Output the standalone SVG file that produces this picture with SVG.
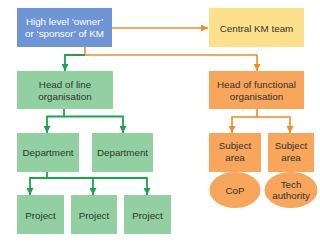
<svg xmlns="http://www.w3.org/2000/svg" width="320" height="249" viewBox="0 0 320 249">
<style>
text{font-family:"Liberation Sans",Arial,sans-serif;font-size:9.8px;fill:#333;text-anchor:middle}
.w{fill:#fff}
.blue{fill:#6f95d5}
.yel{fill:#fde08c}
.grn{fill:#92d0a2}
.org{fill:#f7a65c}
.lg{fill:none;stroke:#1ca34c;stroke-width:1.8}
.lo{fill:none;stroke:#f18c27;stroke-width:1.6}
</style>
<defs>
<marker id="ag" markerUnits="userSpaceOnUse" markerWidth="7" markerHeight="7" refX="7" refY="3.5" orient="auto"><path d="M0,0 L7,3.5 L0,7 z" fill="#1ca34c"/></marker>
<marker id="ao" markerUnits="userSpaceOnUse" markerWidth="7" markerHeight="7" refX="7" refY="3.5" orient="auto"><path d="M0,0 L7,3.5 L0,7 z" fill="#f18c27"/></marker>
</defs>
<rect width="320" height="249" fill="#fff"/>
<g id="connectors">
<path class="lo" d="M111,28 H208" marker-end="url(#ao)"/>
<path class="lo" d="M85,47 V55 H257 V71" marker-end="url(#ao)"/>
<path class="lg" d="M85,55 H65 V71" marker-end="url(#ag)"/>
<path class="lg" d="M64,109 V116.5 H47 V133" marker-end="url(#ag)"/>
<path class="lg" d="M64,116.5 H123 V133" marker-end="url(#ag)"/>
<path class="lg" d="M47,172 V178 H30 V195" marker-end="url(#ag)"/>
<path class="lg" d="M47,178 H147 V195" marker-end="url(#ag)"/>
<path class="lg" d="M93,178 V195" marker-end="url(#ag)"/>
<path class="lo" d="M257,109 V117 H232 V133" marker-end="url(#ao)"/>
<path class="lo" d="M257,117 H290 V133" marker-end="url(#ao)"/>
</g>
<g id="owner"><rect class="blue" x="17" y="8" width="95" height="39"/><text class="w" x="64.5" y="24.5">High level ‘owner’</text><text class="w" x="64.5" y="37">or ‘sponsor’ of KM</text></g>
<g id="central"><rect class="yel" x="209" y="8" width="95" height="39"/><text x="256.5" y="31.5">Central KM team</text></g>
<g id="headline"><rect class="grn" x="17" y="71" width="96" height="38"/><text x="65" y="87.5">Head of line</text><text x="65" y="100">organisation</text></g>
<g id="headfunc"><rect class="org" x="209" y="71" width="95" height="38"/><text x="256.5" y="87.5">Head of functional</text><text x="256.5" y="100">organisation</text></g>
<g id="dept1"><rect class="grn" x="17" y="133" width="62" height="39"/><text x="48" y="156">Department</text></g>
<g id="dept2"><rect class="grn" x="92" y="133" width="61" height="39"/><text x="122.5" y="156">Department</text></g>
<g id="proj1"><rect class="grn" x="17" y="195" width="47" height="39"/><text x="40.5" y="218.5">Project</text></g>
<g id="proj2"><rect class="grn" x="71" y="195" width="46" height="39"/><text x="94" y="218.5">Project</text></g>
<g id="proj3"><rect class="grn" x="124" y="195" width="47" height="39"/><text x="147.5" y="218.5">Project</text></g>
<g id="cop"><ellipse class="org" cx="235" cy="190" rx="25.5" ry="18"/><text x="235" y="193.5">CoP</text></g>
<g id="tech"><ellipse class="org" cx="291" cy="190" rx="26.5" ry="18"/><text x="291" y="188">Tech</text><text x="291" y="199">authority</text></g>
<g id="subj1"><rect class="org" x="209" y="133" width="52" height="39"/><text x="235" y="149">Subject</text><text x="235" y="161">area</text></g>
<g id="subj2"><rect class="org" x="268" y="133" width="46" height="39"/><text x="291" y="149">Subject</text><text x="291" y="161">area</text></g>
</svg>
